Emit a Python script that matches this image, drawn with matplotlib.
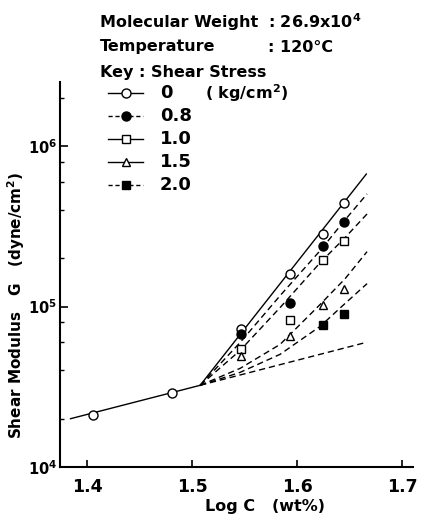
import matplotlib
matplotlib.use("Agg")
import matplotlib.pyplot as plt
from matplotlib.lines import Line2D

# measured points (log C, G in dyne/cm^2)
LOG_C = [1.405, 1.481, 1.547, 1.593, 1.625, 1.645]
G_00 = [2.12e4, 2.89e4, 7.2e4, 1.6e5, 2.83e5, 4.4e5]
LOG_C_HIGH = [1.547, 1.593, 1.625, 1.645]
G_08 = [6.7e4, 1.05e5, 2.37e5, 3.39e5]
G_10 = [5.46e4, 8.2e4, 1.96e5, 2.57e5]
G_15 = [4.9e4, 6.55e4, 1.02e5, 1.29e5]
LOG_C_20 = [1.625, 1.645]
G_20 = [7.7e4, 9.0e4]

# drawn guide lines
LOW_X = [1.384, 1.5076]
LOW_G = [2.0e4, 3.23e4]
STEEP_X = [1.5076, 1.666]
STEEP_G = [3.23e4, 6.7e5]
EXT_X = [1.5076, 1.6667]
EXT_G = [3.23e4, 6.0e4]
CURVE_X = [1.5076, 1.5457, 1.5838, 1.6219, 1.6457, 1.6667]
CURVE_08 = [3.23e4, 5.97e4, 1.17e5, 2.23e5, 3.47e5, 5.04e5]
CURVE_10 = [3.23e4, 5.33e4, 9.86e4, 1.875e5, 2.69e5, 3.78e5]
CURVE_15 = [3.23e4, 4.12e4, 5.81e4, 1.03e5, 1.49e5, 2.20e5]
CURVE_20 = [3.23e4, 3.89e4, 5.04e4, 7.52e4, 1.045e5, 1.39e5]

X_TICKS = [1.4, 1.5, 1.6, 1.7]
Y_TICKS = [1e4, 1e5, 1e6]
Y_TICK_LABELS = [r"$10^{4}$", r"$10^{5}$", r"$10^{6}$"]
KEY_LABELS = ["0", "0.8", "1.0", "1.5", "2.0"]

plt.rcParams["font.family"] = "DejaVu Sans"
plt.rcParams["font.weight"] = "bold"
plt.rcParams["mathtext.default"] = "bf"

W, H = 422, 520
fig = plt.figure(figsize=(W / 100, H / 100), dpi=100, facecolor="white")
ax = fig.add_axes((60 / W, 1 - 467 / H, 353 / W, 385 / H))

lw = 1.0
dash = (0, (4.5, 2.8))
ax.plot(LOW_X, LOW_G, color="black", lw=lw)
ax.plot(STEEP_X, STEEP_G, color="black", lw=lw)
ax.plot(EXT_X, EXT_G, color="black", lw=lw, linestyle=dash)
for curve in [CURVE_08, CURVE_10, CURVE_15, CURVE_20]:
    ax.plot(CURVE_X, curve, color="black", lw=lw, linestyle=dash)

ms = 6.5
open_kw = dict(linestyle="none", mfc="white", mec="black", mew=1.0, zorder=3)
fill_kw = dict(linestyle="none", mfc="black", mec="black", mew=1.0, zorder=3)
ax.plot(LOG_C, G_00, marker="o", ms=ms, **open_kw)
ax.plot(LOG_C_HIGH, G_08, marker="o", ms=ms, **fill_kw)
ax.plot(LOG_C_HIGH, G_10, marker="s", ms=5.5, **open_kw)
ax.plot(LOG_C_HIGH, G_15, marker="^", ms=6, **open_kw)
ax.plot(LOG_C_20, G_20, marker="s", ms=5.5, **fill_kw)

ax.set_yscale("log")
ax.set_xlim(1.374, 1.7105)
ax.set_ylim(1e4, 10 ** 6.40)
ax.set_xticks(X_TICKS, [f"{v:.1f}" for v in X_TICKS])
ax.set_yticks(Y_TICKS, Y_TICK_LABELS)
ax.set_yticks([m * 10 ** e for e in (4, 5, 6) for m in (2, 4, 6, 8) if m * 10 ** e < 10 ** 6.4], minor=True)
ax.tick_params(axis="x", which="major", direction="in", length=5, width=1.2, labelsize=12.5, pad=8)
ax.tick_params(axis="y", which="major", direction="in", length=6, width=1.2, labelsize=10.5, pad=2)
ax.tick_params(axis="y", which="minor", direction="in", length=3, width=1.0, labelleft=False)
ax.tick_params(axis="x", which="minor", bottom=False)
for side in ("top", "right"):
    ax.spines[side].set_visible(False)
for side in ("left", "bottom"):
    ax.spines[side].set_linewidth(1.5)

fig.text(16 / W, 1 - 305 / H, r"Shear Modulus   G   (dyne/cm$^2$)", rotation=90,
         ha="center", va="center", fontsize=11)
fig.text(265 / W, 1 - 506 / H, "Log C   (wt%)", ha="center", va="center", fontsize=11.5)

x0, x1 = 100 / W, 268 / W
fig.text(x0, 1 - 22 / H, "Molecular Weight", va="center", fontsize=11.5)
fig.text(x1, 1 - 22 / H, r": 26.9x10$^{4}$", va="center", fontsize=11.5)
fig.text(x0, 1 - 47 / H, "Temperature", va="center", fontsize=11.5)
fig.text(x1, 1 - 47 / H, ": 120°C", va="center", fontsize=11.5)
fig.text(x0, 1 - 72 / H, "Key : Shear Stress", va="center", fontsize=11.5)

key_styles = [("o", "white", "-", ms), ("o", "black", "--", ms), ("s", "white", "-", 5.5),
              ("^", "white", "-", 6), ("s", "black", "--", 5.5)]
for i, (label, (mk, fc, ls, size)) in enumerate(zip(KEY_LABELS, key_styles)):
    yy = 1 - (93 + 23 * i) / H
    fig.add_artist(Line2D([108 / W, 143 / W], [yy, yy], color="black", lw=1.0,
                          linestyle=ls if ls == "-" else (0, (3, 2))))
    fig.add_artist(Line2D([126 / W], [yy], marker=mk, ms=size, mfc=fc, mec="black", mew=1.0))
    fig.text(160 / W, yy, label, va="center", fontsize=13)
fig.text(205 / W, 1 - 93 / H, r"( kg/cm$^2$)", va="center", fontsize=11.5)

fig.savefig("out.png", dpi=100, facecolor="white")
